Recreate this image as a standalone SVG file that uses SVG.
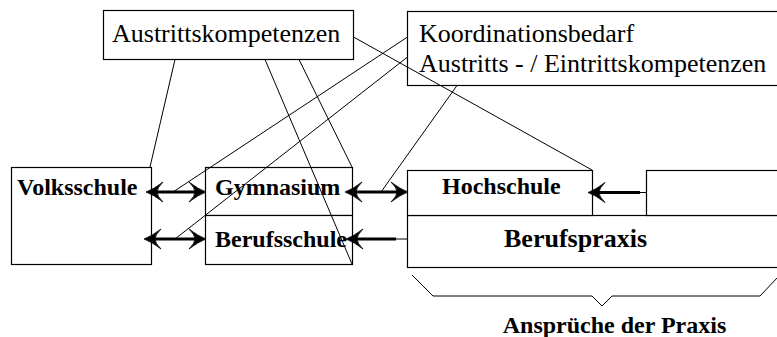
<svg xmlns="http://www.w3.org/2000/svg" width="777" height="337" viewBox="0 0 777 337">
<style>
.box{fill:#fff;stroke:#000;stroke-width:1.2}
.t{font-family:"Liberation Serif","Times New Roman",serif;fill:#000}
.n{font-size:26px}
.b{font-size:24px;font-weight:bold}
.thin{stroke:#000;stroke-width:1;fill:none}
.shaft{stroke:#000;stroke-width:3;fill:none}
</style>
<defs>
<path id="ah" d="M0,0 Q-8,-3 -17,-10 Q-11,-4 -11,0 Q-11,4 -17,10 Q-8,3 0,0 Z" fill="#000" stroke="#000" stroke-width="0.8" stroke-linejoin="round"/>
</defs>
<rect width="777" height="337" fill="#fff"/>
<g id="austritt">
<rect class="box" x="103.5" y="10.5" width="250" height="49"/>
<text class="t n" x="112" y="42">Austrittskompetenzen</text>
</g>
<g id="koordination">
<rect class="box" x="407.5" y="11.5" width="380" height="74"/>
<text class="t n" x="419" y="42">Koordinationsbedarf</text>
<text class="t n" x="419" y="72">Austritts - / Eintrittskompetenzen</text>
</g>
<g id="volksschule">
<rect class="box" x="11.5" y="167.5" width="140" height="97"/>
<text class="t b" x="17" y="195">Volksschule</text>
</g>
<g id="gymnasium">
<rect class="box" x="205.5" y="167.5" width="147" height="48"/>
<text class="t b" x="215" y="195">Gymnasium</text>
</g>
<g id="berufsschule">
<rect class="box" x="205.5" y="215.5" width="147" height="49"/>
<text class="t b" x="215" y="247">Berufsschule</text>
</g>
<g id="berufspraxis">
<rect class="box" x="407.5" y="215.5" width="380" height="52"/>
<text class="t" x="504" y="247" style="font-size:26px;font-weight:bold">Berufspraxis</text>
</g>
<g id="hochschule">
<rect class="box" x="407.5" y="170.5" width="185" height="45"/>
<text class="t b" x="442" y="194">Hochschule</text>
</g>
<g id="rechtsbox">
<rect class="box" x="646.5" y="170.5" width="140" height="45"/>
</g>
<g id="anspruch">
<path class="thin" d="M412,275 L433,296 L592,296 L602,306 L612,296 L760,296 L778,277"/>
<text class="t b" x="614.5" y="333" text-anchor="middle">Ansprüche der Praxis</text>
</g>
<g id="connectors">
<line class="thin" x1="175" y1="59.5" x2="150" y2="167"/>
<line class="thin" x1="265" y1="59.5" x2="352" y2="264"/>
<line class="thin" x1="299" y1="59.5" x2="352" y2="167"/>
<line class="thin" x1="353.5" y1="37" x2="592" y2="170"/>
<line class="thin" x1="407.5" y1="37" x2="173" y2="192"/>
<line class="thin" x1="407.5" y1="57" x2="175" y2="239"/>
<line class="thin" x1="457" y1="85.5" x2="381" y2="192"/>
<line class="shaft" x1="155" y1="192" x2="197" y2="192"/>
<use href="#ah" transform="translate(146,192) rotate(180)"/>
<use href="#ah" transform="translate(206,192)"/>
<line class="shaft" x1="153" y1="239" x2="197" y2="239"/>
<use href="#ah" transform="translate(144,239) rotate(180)"/>
<use href="#ah" transform="translate(206,239)"/>
<line class="shaft" x1="353" y1="192" x2="400" y2="192"/>
<use href="#ah" transform="translate(345,192) rotate(180)"/>
<use href="#ah" transform="translate(408,192)"/>
<line class="shaft" x1="355" y1="239" x2="396" y2="239"/>
<line class="thin" x1="396" y1="239" x2="407.5" y2="239"/>
<use href="#ah" transform="translate(346,239) rotate(180)"/>
<line class="shaft" x1="596" y1="192.5" x2="640" y2="192.5"/>
<line class="thin" x1="640" y1="192.5" x2="646.5" y2="192.5"/>
<use href="#ah" transform="translate(588,192.5) rotate(180)"/>
</g>
</svg>
